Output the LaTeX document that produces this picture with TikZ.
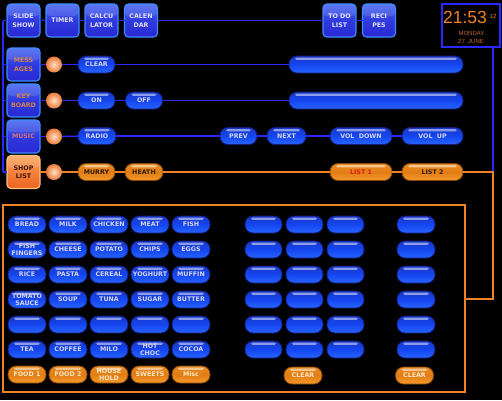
\documentclass[tikz,border=0pt]{standalone}
\usepackage{fontspec}
\setmainfont{DejaVu Sans}
\newfontfamily\clockfont{Liberation Sans}
\usetikzlibrary{calc}
\definecolor{bline}{RGB}{40,40,255}
\definecolor{oline}{RGB}{240,130,40}
\definecolor{pillborder}{RGB}{20,30,120}
\definecolor{pilltop}{RGB}{25,55,200}
\definecolor{pillmid}{RGB}{20,70,240}
\definecolor{pillbot}{RGB}{40,100,255}
\definecolor{pilltext}{RGB}{215,215,235}
\definecolor{oborder}{RGB}{130,70,10}
\definecolor{otop}{RGB}{235,140,35}
\definecolor{omid}{RGB}{225,125,20}
\definecolor{obot}{RGB}{245,155,45}
\definecolor{otext}{RGB}{50,30,10}
\definecolor{otextlight}{RGB}{255,232,200}
\definecolor{listred}{RGB}{220,30,20}
\definecolor{sqborder}{RGB}{60,140,255}
\definecolor{sqtop}{RGB}{70,100,240}
\definecolor{sqmid}{RGB}{48,58,222}
\definecolor{sqbot}{RGB}{40,40,210}
\definecolor{sqtext}{RGB}{225,225,245}
\definecolor{sqotext}{RGB}{215,130,70}
\definecolor{musictext}{RGB}{215,115,120}
\definecolor{osqborder}{RGB}{255,190,130}
\definecolor{osqtop}{RGB}{250,165,95}
\definecolor{osqbot}{RGB}{235,100,30}
\definecolor{osqtext}{RGB}{60,20,10}
\definecolor{ballin}{RGB}{255,225,195}
\definecolor{ballout}{RGB}{235,120,55}
\definecolor{clockc}{RGB}{235,130,40}
\definecolor{clocksmall}{RGB}{200,100,40}
\begin{document}
\begin{tikzpicture}[x=1pt,y=-1pt,
  base/.style={inner sep=0pt,outer sep=0pt,align=center,font=\bfseries\fontsize{6.3}{7}\selectfont},
  gloss/.style={path picture={\fill[white,opacity=0.5,rounded corners=1.5pt] ($(path picture bounding box.north west)+(6pt,-1.6pt)$) rectangle ($(path picture bounding box.north east)+(-6pt,-3.8pt)$);}},
  sqgloss/.style={path picture={\fill[white,opacity=0.12] (path picture bounding box.north west) rectangle ($(path picture bounding box.north east)+(0,-12pt)$);}},
  pill/.style={base,gloss,rounded corners=8pt,minimum width=38pt,minimum height=17pt,draw=pillborder,line width=0.8pt,top color=pilltop,bottom color=pillbot,middle color=pillmid,text=pilltext},
  opill/.style={pill,draw=oborder,top color=otop,bottom color=obot,middle color=omid,text=otext},
  sq/.style={base,sqgloss,font=\bfseries\fontsize{6.3}{8.5}\selectfont,rounded corners=4pt,minimum width=33pt,minimum height=33pt,draw=sqborder,line width=1.2pt,top color=sqtop,bottom color=sqbot,middle color=sqmid,text=sqtext},
  osq/.style={sq,draw=osqborder,top color=osqtop,bottom color=osqbot,middle color={rgb,255:red,242;green,130;blue,60},text=osqtext},
  ball/.style={circle,inner sep=0pt,outer sep=0pt,minimum size=16pt,inner color=ballin,outer color=ballout},
  bl/.style={draw=bline,line width=1.5pt},
  ol/.style={draw=oline,line width=2pt}]
\fill[black] (0,0) rectangle (502,400);
\useasboundingbox (0,0) rectangle (502,400);

% ---------- top row ----------
\node[sq] (slide) at (23.5,20.5) {SLIDE\\SHOW};
\node[sq] (timer) at (62.5,20.5) {TIMER};
\node[sq] (calc) at (101.5,20.5) {CALCU\\LATOR};
\node[sq] (cal) at (141,20.5) {CALEN\\DAR};
\node[sq] (todo) at (339.5,20.5) {TO DO\\LIST};
\node[sq] (recipes) at (379,20.5) {RECI\\PES};

% ---------- left column ----------
\node[sq,text=sqotext] (mess) at (23.5,64.5) {MESS\\AGES};
\node[sq,text=sqotext] (key) at (23.5,100.5) {KEY\\BOARD};
\node[sq,text=musictext] (music) at (23.5,136.5) {MUSIC};
\node[osq] (shop) at (23.5,172) {SHOP\\LIST};

\coordinate (tl) at (3,20.5);
\coordinate (bl) at (3,172);

% ---------- balls ----------
\node[ball] (b1) at (54,64.5) {};
\node[ball] (b2) at (54,100.5) {};
\node[ball] (b3) at (54,136.5) {};
\node[ball] (b4) at (54,172) {};

% ---------- row pills ----------
\node[pill,minimum width=37pt] (clear1) at (96.5,64.5) {CLEAR};
\node[pill,minimum width=174pt] (big1) at (376,64.5) {};
\node[pill,minimum width=37pt] (on) at (96.5,100.5) {ON};
\node[pill,minimum width=37pt] (off) at (144,100.5) {OFF};
\node[pill,minimum width=174pt] (big2) at (376,100.5) {};
\node[pill] (radio) at (97,136) {RADIO};
\node[pill,minimum width=37pt] (prev) at (238.5,136) {PREV};
\node[pill,minimum width=39pt] (next) at (286.5,136) {NEXT};
\node[pill,minimum width=62pt] (voldown) at (361,136) {VOL\ \ DOWN};
\node[pill,minimum width=61pt] (volup) at (432.5,136) {VOL\ \ UP};
\node[opill,minimum width=37pt] (murry) at (96.5,172) {MURRY};
\node[opill] (heath) at (144,172) {HEATH};
\node[opill,minimum width=62pt,text=listred] (list1) at (361,172) {LIST 1};
\node[opill,minimum width=61pt] (list2) at (432.5,172) {LIST 2};

% ---------- clock ----------
\node[draw=bline,line width=1.5pt,fill=black,minimum width=58pt,minimum height=43pt,inner sep=0pt,outer sep=0pt] (clock) at (471,25.5) {};
\node[inner sep=0pt,text=clockc,font=\clockfont\fontsize{17.5}{18}\selectfont] (time) at (465,17) {21:53};
\node[inner sep=0pt,text=clockc,font=\clockfont\fontsize{6}{6}\selectfont] (sec) at (493,16.5) {12};
\node[inner sep=0pt,text=clocksmall,font=\clockfont\fontsize{6}{6}\selectfont] (day) at (471.5,33) {MONDAY};
\node[inner sep=0pt,text=clocksmall,font=\clockfont\fontsize{6}{6}\selectfont] (date) at (471,41.5) {27\ \ JUNE};

% ---------- big box ----------
\node[draw=oline,line width=2pt,minimum width=462pt,minimum height=187pt,inner sep=0pt,outer sep=0pt] (box) at (234,298.5) {};
\coordinate (cr) at (493,172);
\coordinate (cb) at (493,298.5);

% ---------- grid ----------
\foreach \t [count=\c] in {BREAD,MILK,CHICKEN,MEAT,FISH}
  \node[pill] (g1-\c) at (27+41*\c-41,224.5) {\t};
\foreach \t [count=\c] in {{FISH\\FINGERS},CHEESE,POTATO,CHIPS,EGGS}
  \node[pill] (g2-\c) at (27+41*\c-41,249.5) {\t};
\foreach \t [count=\c] in {RICE,PASTA,CEREAL,YOGHURT,MUFFIN}
  \node[pill] (g3-\c) at (27+41*\c-41,274.5) {\t};
\foreach \t [count=\c] in {{TOMATO\\SAUCE},SOUP,TUNA,SUGAR,BUTTER}
  \node[pill] (g4-\c) at (27+41*\c-41,299.5) {\t};
\foreach \c in {1,...,5}
  \node[pill] (g5-\c) at (27+41*\c-41,324.5) {};
\foreach \t [count=\c] in {TEA,COFFEE,MILO,{HOT\\CHOC},COCOA}
  \node[pill] (g6-\c) at (27+41*\c-41,349.5) {\t};
\foreach \t [count=\c] in {FOOD 1,FOOD 2,{HOUSE\\HOLD},SWEETS,Misc}
  \node[opill,text=otextlight] (g7-\c) at (27+41*\c-41,374.5) {\t};

\foreach \r in {1,...,6}{
  \node[pill,minimum width=37pt] (ra\r) at (263.5,199.5+25*\r) {};
  \node[pill,minimum width=37pt] (rb\r) at (304.5,199.5+25*\r) {};
  \node[pill,minimum width=37pt] (rc\r) at (345.5,199.5+25*\r) {};
  \node[pill,minimum width=38pt] (rd\r) at (416,199.5+25*\r) {};
}
\node[opill,text=otextlight] (clearA) at (303,375.5) {CLEAR};
\node[opill,text=otextlight] (clearB) at (414.5,375.5) {CLEAR};

% ---------- connectors ----------
\draw[bl] (tl) -- (slide);
\draw[bl] (slide) -- (timer);
\draw[bl] (timer) -- (calc);
\draw[bl] (calc) -- (cal);
\draw[bl] (cal) -- (todo);
\draw[bl] (todo) -- (recipes);
\draw[bl] (tl) -- (bl);
\draw[bl] (tl |- mess) -- (mess);
\draw[bl] (tl |- key) -- (key);
\draw[bl] (tl |- music) -- (music);
\draw[bl] (bl) -- (shop);

\draw[bl] (mess) -- (b1);
\draw[bl] (b1) -- (clear1);
\draw[bl] (clear1) -- (big1);
\draw[bl] (key) -- (b2);
\draw[bl] (b2) -- (on);
\draw[bl] (on) -- (off);
\draw[bl] (off) -- (big2);
\draw[bl] (music) -- (b3);
\draw[bl] (b3) -- (radio);
\draw[bl] (radio) -- (prev);
\draw[bl] (prev) -- (next);
\draw[bl] (next) -- (voldown);
\draw[bl] (voldown) -- (volup);

\draw[bl] (clock.south -| cr) -- (cr);

\draw[ol] (shop) -- (b4);
\draw[ol] (b4) -- (murry);
\draw[ol] (murry) -- (heath);
\draw[ol] (heath) -- (list1);
\draw[ol] (list1) -- (list2);
\draw[ol] (list2) -- (cr) -- (cb) -- (box.east);
\end{tikzpicture}
\end{document}
